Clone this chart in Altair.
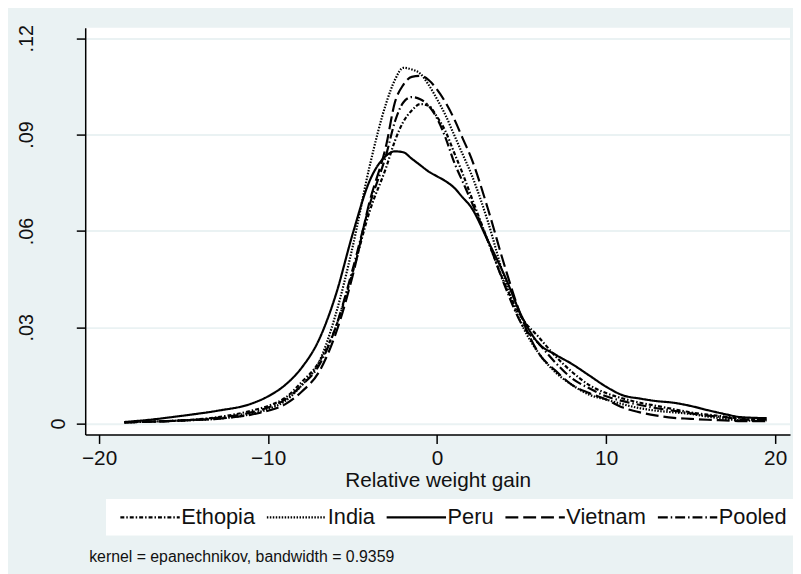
import altair as alt
import pandas as pd

x_vals = [-18.5, -17, -15, -13, -11, -10, -9, -8, -7, -6,
          -5, -4, -3, -2.5, -2, -1.5, -1, -0.5, 0, 0.5,
          1, 1.5, 2, 3, 4, 5, 6, 7, 8, 9,
          10, 11, 12, 13, 14, 15, 16, 17, 18, 19.5]

ethiopia = [0.0004, 0.0006, 0.001, 0.002, 0.004, 0.0055, 0.008, 0.013, 0.019, 0.030,
            0.047, 0.066, 0.080, 0.088, 0.094, 0.0975, 0.0995, 0.099, 0.0955, 0.091,
            0.0845, 0.078, 0.071, 0.057, 0.0435, 0.033, 0.027, 0.021, 0.016, 0.012,
            0.0095, 0.0078, 0.0065, 0.0055, 0.0045, 0.0035, 0.0028, 0.0022, 0.0015, 0.001]

india = [0.0004, 0.0006, 0.001, 0.0015, 0.003, 0.0045, 0.007, 0.012, 0.019, 0.034,
         0.055, 0.080, 0.100, 0.107, 0.1108, 0.1103, 0.109, 0.1055, 0.101, 0.096,
         0.090, 0.084, 0.078, 0.063, 0.045, 0.031, 0.022, 0.016, 0.012, 0.009,
         0.0075, 0.006, 0.0048, 0.004, 0.0035, 0.003, 0.0022, 0.0015, 0.001, 0.0008]

peru = [0.0005, 0.0012, 0.0025, 0.004, 0.0062, 0.0085, 0.012, 0.0175, 0.026, 0.040,
        0.059, 0.0755, 0.0835, 0.0848, 0.0845, 0.0825, 0.0805, 0.0785, 0.077, 0.0755,
        0.0735, 0.0705, 0.0675, 0.057, 0.046, 0.0335, 0.025, 0.0215, 0.0185, 0.015,
        0.0115, 0.0088, 0.0078, 0.007, 0.0065, 0.0055, 0.0042, 0.003, 0.002, 0.0017]

vietnam = [0.0004, 0.0006, 0.001, 0.0015, 0.0028, 0.004, 0.006, 0.010, 0.016, 0.028,
           0.046, 0.069, 0.087, 0.100, 0.1055, 0.108, 0.1083, 0.107, 0.104, 0.100,
           0.095, 0.089, 0.083, 0.067, 0.049, 0.033, 0.022, 0.0165, 0.012, 0.0095,
           0.0075, 0.005, 0.0035, 0.0025, 0.0018, 0.0015, 0.0012, 0.001, 0.0008, 0.0008]

pooled = [0.0004, 0.0006, 0.001, 0.0018, 0.0035, 0.005, 0.0075, 0.012, 0.018, 0.030,
          0.048, 0.068, 0.084, 0.094, 0.100, 0.1017, 0.101, 0.099, 0.095, 0.089,
          0.0815, 0.0755, 0.0695, 0.057, 0.043, 0.031, 0.025, 0.019, 0.014, 0.011,
          0.0085, 0.007, 0.0058, 0.0048, 0.004, 0.0032, 0.0025, 0.002, 0.0013, 0.0012]

series_names = ["Ethopia", "India", "Peru", "Vietnam", "Pooled"]
series_values = [ethiopia, india, peru, vietnam, pooled]
dash_styles = [[4, 2, 1.5, 2], [1.5, 1.5], [1, 0], [13, 5], [10, 3, 1.5, 3]]
line_widths = [2.2, 2.2, 2.6, 2.2, 2.6]

x_ticks = [-20, -10, 0, 10, 20]
y_ticks = [0, 0.03, 0.06, 0.09, 0.12]

rows = []
for name, vals in zip(series_names, series_values):
    for xv, yv in zip(x_vals, vals):
        rows.append({"x": xv, "y": yv, "series": name})
df = pd.DataFrame(rows)

FONT = "Liberation Sans"
BG = "#EAF2F3"

chart = alt.Chart(df).mark_line(color="black", interpolate="monotone", clip=True).encode(
    x=alt.X("x:Q",
            scale=alt.Scale(domain=[-20.82, 20.88], nice=False, zero=False),
            axis=alt.Axis(values=x_ticks, title="Relative weight gain", grid=False,
                          labelFontSize=21, titleFontSize=21, labelPadding=4,
                          titlePadding=1, format="d")),
    y=alt.Y("y:Q",
            scale=alt.Scale(domain=[-0.0034, 0.1233], nice=False, zero=False),
            axis=alt.Axis(values=y_ticks, title=None, grid=True, gridColor=BG, gridWidth=2,
                          labelAngle=270, labelAlign="center", labelBaseline="bottom",
                          labelFontSize=20,
                          labelPadding={"condition": {"test": "datum.value == 0", "value": 8}, "value": 40},
                          labelExpr="datum.value == 0 ? '0' : replace(format(datum.value, '.2f'), '0.', '.')")),
    strokeDash=alt.StrokeDash("series:N",
                              scale=alt.Scale(domain=series_names, range=dash_styles),
                              legend=alt.Legend(title=None, orient="none", legendX=21, legendY=476,
                                                direction="horizontal", symbolType="M-0.4,0H5.6",
                                                symbolSize=400, symbolStrokeWidth=2.2,
                                                symbolStrokeColor="black", labelFontSize=22,
                                                labelFont=FONT, labelColor="#111", fillColor="white",
                                                padding=7, columnPadding=4, labelOffset=46)),
    strokeWidth=alt.StrokeWidth("series:N",
                                scale=alt.Scale(domain=series_names, range=line_widths),
                                legend=None),
).properties(
    width=712,
    height=411,
    autosize="none",
    padding={"left": 78, "top": 17, "right": 3, "bottom": 138},
    title=alt.TitleParams("kernel = epanechnikov, bandwidth = 0.9359", orient="bottom",
                          anchor="start", frame="group", offset=14, fontSize=16,
                          fontWeight="normal", font=FONT, color="#111", dx=4),
).configure(
    background=BG,
).configure_view(
    fill="white", strokeWidth=0,
).configure_axis(
    labelFont=FONT, titleFont=FONT, labelColor="#111", titleColor="#111",
    titleFontWeight="normal", domainColor="black", domainWidth=1.5,
    tickColor="black", tickWidth=1.5, tickSize=9,
)

chart.save("out.html", embed_options={"renderer": "svg", "actions": False})
